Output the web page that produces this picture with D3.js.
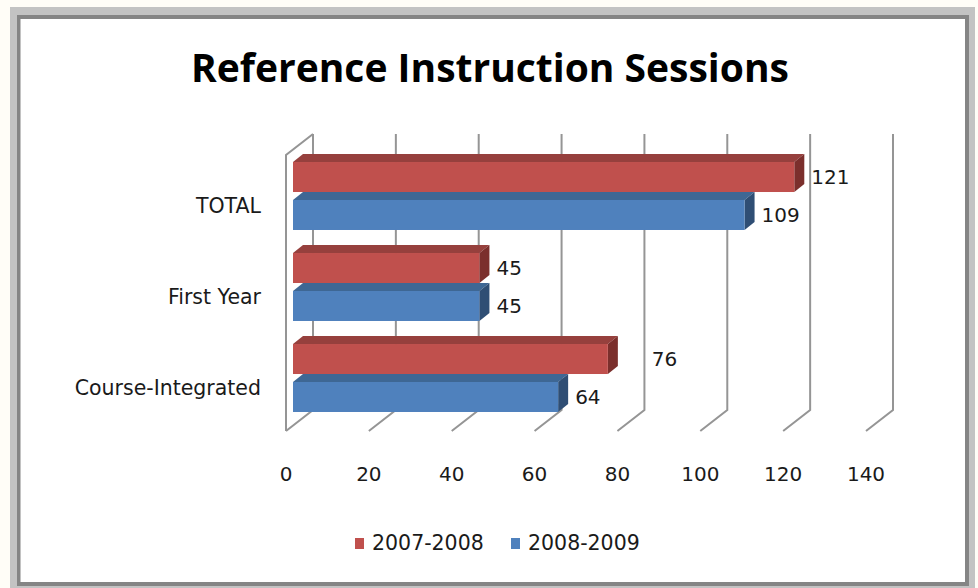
<!DOCTYPE html>
<html>
<head>
<meta charset="utf-8">
<script src="https://cdn.jsdelivr.net/npm/d3@7"></script>
<style>
  html, body { margin: 0; padding: 0; background: #fffdf7; }
  svg { display: block; }
  text { font-family: "DejaVu Sans", sans-serif; fill: #1a1a1a; }
</style>
</head>
<body>
<svg id="chart" width="978" height="588"></svg>
<script>
// ---- data ----
const categories = ["TOTAL", "First Year", "Course-Integrated"];
const series = ["2007-2008", "2008-2009"];
const values2007 = [121, 45, 76];
const values2008 = [109, 45, 64];
const tickValues = [0, 20, 40, 60, 80, 100, 120, 140];

const seriesValues = [values2007, values2008];
const colors = {
  "2007-2008": { front: "#c0504d", top: "#96403d", end: "#7b2f2c" },
  "2008-2009": { front: "#4f81bd", top: "#3e6794", end: "#2f4e74" }
};
// excel pushed this one label further out
const labelNudge = { "Course-Integrated|2007-2008": 27 };

const svg = d3.select("#chart");

// ---- frame ----
svg.append("rect").attr("x", 10).attr("y", 7).attr("width", 965).attr("height", 590).attr("fill", "#c3c3c3");
svg.append("rect").attr("x", 17).attr("y", 15).attr("width", 952).attr("height", 571).attr("fill", "#858585");
svg.append("rect").attr("x", 20.5).attr("y", 19).attr("width", 944.5).attr("height", 563).attr("fill", "#fff");

// title
svg.append("text")
  .attr("x", 490).attr("y", 82)
  .attr("text-anchor", "middle")
  .style("font-family", "'Open Sans', sans-serif")
  .style("font-weight", "bold")
  .style("font-size", "39px")
  .style("fill", "#000")
  .text("Reference Instruction Sessions");

// ---- 3d geometry ----
const depth = [27, -21];           // offset from front plane to back wall
const frontTop = 155, frontBottom = 431;
const x = d3.scaleLinear().domain([0, 140]).range([286, 866]);

// bars sit a quarter of the way in
const barShift = 7;
const barDepth = [10, -8];
const xb = v => x(v) + barShift;

const yGroup = d3.scaleBand().domain(categories)
  .range([150.5, 423.5]).paddingInner(0.253).paddingOuter(0.1265);
const ySeries = d3.scaleBand().domain(series)
  .range([0, yGroup.bandwidth()]).paddingInner(0.21);

// ---- walls + gridlines ----
const grid = svg.append("g")
  .attr("fill", "none").attr("stroke", "#959595").attr("stroke-width", 2);

// left wall
grid.append("path")
  .attr("d", d3.line()([
    [x(0), frontBottom], [x(0), frontTop],
    [x(0) + depth[0], frontTop + depth[1]]
  ]));

grid.selectAll("path.tick")
  .data(tickValues)
  .join("path")
  .attr("class", "tick")
  .attr("d", t => d3.line()([
    [x(t) + depth[0], frontTop + depth[1]],
    [x(t) + depth[0], frontBottom + depth[1]],
    [x(t), frontBottom]
  ]));

// tick labels
svg.append("g")
  .selectAll("text")
  .data(tickValues)
  .join("text")
  .attr("x", t => x(t))
  .attr("y", 481)
  .attr("text-anchor", "middle")
  .style("font-size", "20px")
  .text(t => t);

// category labels
svg.append("g")
  .selectAll("text")
  .data(categories)
  .join("text")
  .attr("x", 261)
  .attr("y", c => yGroup(c) + yGroup.bandwidth() / 2 + 9.5)
  .attr("dy", "0.36em")
  .attr("text-anchor", "end")
  .style("font-size", "20.5px")
  .text(c => c);

// ---- bars ----
const bars = [];
categories.forEach((c, i) => {
  series.forEach((s, j) => {
    bars.push({ category: c, series: s, value: seriesValues[j][i] });
  });
});

const barG = svg.append("g")
  .selectAll("g")
  .data(bars)
  .join("g");

barG.each(function (d) {
  const g = d3.select(this);
  const x0 = xb(0), x1 = xb(d.value);
  const y0 = yGroup(d.category) + ySeries(d.series);
  const h = ySeries.bandwidth();
  const [dx, dy] = barDepth;
  const col = colors[d.series];
  g.append("path")
    .attr("fill", col.top)
    .attr("d", d3.line()([[x0, y0], [x1, y0], [x1 + dx, y0 + dy], [x0 + dx, y0 + dy]]) + "Z");
  g.append("path")
    .attr("fill", col.end)
    .attr("d", d3.line()([[x1, y0], [x1 + dx, y0 + dy], [x1 + dx, y0 + h + dy], [x1, y0 + h]]) + "Z");
  g.append("rect")
    .attr("x", x0).attr("y", y0)
    .attr("width", x1 - x0).attr("height", h)
    .attr("fill", col.front);
});

// value labels
svg.append("g")
  .selectAll("text")
  .data(bars)
  .join("text")
  .attr("x", d => xb(d.value) + barDepth[0] + 7 + (labelNudge[d.category + "|" + d.series] || 0))
  .attr("y", d => yGroup(d.category) + ySeries(d.series) + ySeries.bandwidth() / 2)
  .attr("dy", "0.36em")
  .style("font-size", "20px")
  .text(d => d.value);

// ---- legend ----
const legendX = d3.scaleOrdinal().domain(series).range([355, 511]);
const legend = svg.append("g")
  .selectAll("g")
  .data(series)
  .join("g")
  .attr("transform", s => `translate(${legendX(s)}, 538)`);
legend.append("rect")
  .attr("width", 9).attr("height", 11)
  .attr("fill", s => colors[s].front);
legend.append("text")
  .attr("x", 17).attr("y", 12)
  .style("font-size", "20.5px")
  .text(s => s);
</script>
</body>
</html>
